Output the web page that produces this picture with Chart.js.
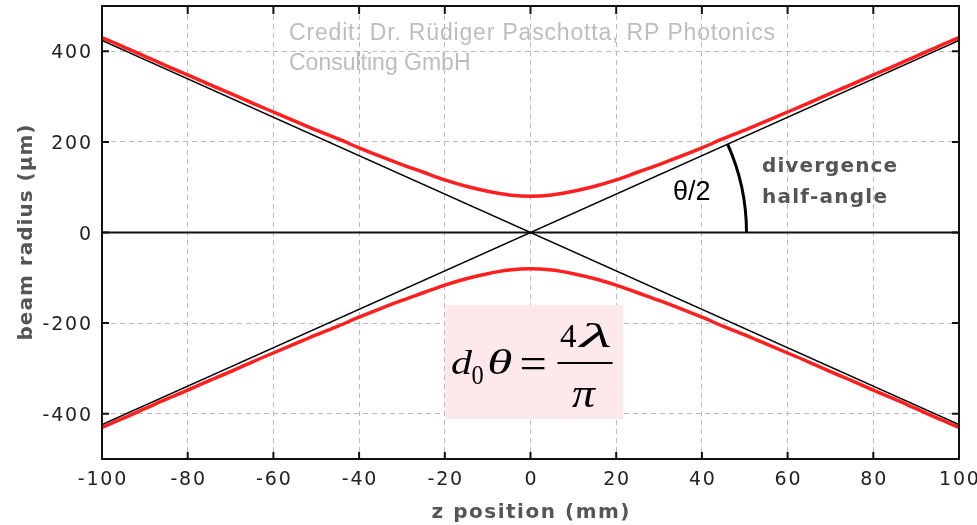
<!DOCTYPE html>
<html><head><meta charset="utf-8">
<script src="https://cdn.jsdelivr.net/npm/chart.js@4.4.1/dist/chart.umd.min.js"></script>
<style>html,body{margin:0;padding:0;background:#fff;overflow:hidden}canvas{display:block}</style>
</head><body>
<canvas id="c" width="977" height="525" style="width:977px;height:525px"></canvas>
<script>
// ---- data ----
const zPos = [-100,-95,-90,-85,-80,-75,-70,-65,-60,-55,-50,-45,-40,-35,-30,-25,-20,-15,-10,-5,0,5,10,15,20,25,30,35,40,45,50,55,60,65,70,75,80,85,90,95,100];
const radiusUpper = [430,410,389,368,348,327,307,286,266,246,226,207,187,168,150,133,116,102,91,83,80,83,91,102,116,133,150,168,187,207,226,246,266,286,307,327,348,368,389,410,430];
const radiusLower = [-430,-410,-389,-368,-348,-327,-307,-286,-266,-246,-226,-207,-187,-168,-150,-133,-116,-102,-91,-83,-80,-83,-91,-102,-116,-133,-150,-168,-187,-207,-226,-246,-266,-286,-307,-327,-348,-368,-389,-410,-430];
const asymZ = [-100, 100];
const asymFalling = [424, -424];
const asymRising = [-424, 424];
const xTicks = [-100,-80,-60,-40,-20,0,20,40,60,80,100];
const yTicks = [-400,-200,0,200,400];
const xTickLabels = ['-100','-80','-60','-40','-20','0','20','40','60','80','100'];
const yTickLabels = ['-400','-200','0','200','400'];
const xTitle = 'z position (mm)';
const yTitle = 'beam radius (µm)';
const creditLines = ['Credit: Dr. Rüdiger Paschotta, RP Photonics', 'Consulting GmbH'];
const angleLabel = 'θ/2';
const noteLines = ['divergence', 'half-angle'];

function pts(xs, ys){ return xs.map((x,i)=>({x:x, y:ys[i]})); }

function drawSpaced(ctx, text, x, y, font, spacing, align, color){
  ctx.save();
  ctx.font = font; ctx.letterSpacing = '0px';
  ctx.textBaseline = 'alphabetic';
  const n = [...text].length;
  const w = ctx.measureText(text).width + spacing*(n-1);
  let left = align==='center' ? x - w/2 : (align==='right' ? x - w : x);
  ctx.letterSpacing = spacing + 'px';
  ctx.textAlign = 'left';
  ctx.fillStyle = color;
  ctx.fillText(text, left, y);
  ctx.restore();
}
function drawFitted(ctx, text, x, y, font, targetW, align, color){
  ctx.save(); ctx.font = font; ctx.letterSpacing='0px';
  const n = [...text].length;
  const nat = ctx.measureText(text).width;
  ctx.restore();
  const sp = n>1 ? (targetW - nat)/(n-1) : 0;
  drawSpaced(ctx, text, x, y, font, sp, align, color);
}
// draw a glyph so that its ink fills the box [l,t,r,b]
function drawInBox(ctx, text, font, l, t, r, b){
  ctx.save();
  ctx.font = font; ctx.letterSpacing = '0px';
  ctx.textAlign = 'left'; ctx.textBaseline = 'alphabetic';
  const m = ctx.measureText(text);
  const iw = m.actualBoundingBoxLeft + m.actualBoundingBoxRight;
  const ih = m.actualBoundingBoxAscent + m.actualBoundingBoxDescent;
  const sx = (r - l) / iw, sy = (b - t) / ih;
  ctx.translate(l, t);
  ctx.scale(sx, sy);
  ctx.fillStyle = '#000';
  ctx.fillText(text, m.actualBoundingBoxLeft, m.actualBoundingBoxAscent);
  ctx.restore();
}

const deco = {
  id: 'deco',
  beforeDraw(chart){
    const ctx = chart.ctx;
    ctx.save();
    ctx.fillStyle = '#fff';
    ctx.fillRect(0,0,chart.width,chart.height);
    ctx.restore();
    drawFitted(ctx, creditLines[0], 289, 40, '23px "Liberation Sans", Arial, sans-serif', 486, 'left', '#bdbdbd');
    drawSpaced(ctx, creditLines[1], 289, 70, '23px "Liberation Sans", Arial, sans-serif', 0, 'left', '#bdbdbd');
  },
  beforeDatasetsDraw(chart){
    const ctx = chart.ctx, a = chart.chartArea;
    const yS = chart.scales.y;
    ctx.save();
    ctx.fillStyle = '#fde8ec';
    ctx.fillRect(445, 305, 178, 114);
    ctx.restore();
    const y0 = yS.getPixelForValue(0);
    ctx.save();
    ctx.strokeStyle = '#111'; ctx.lineWidth = 2;
    ctx.beginPath(); ctx.moveTo(a.left, y0); ctx.lineTo(a.right, y0); ctx.stroke();
    ctx.restore();
  },
  afterDatasetsDraw(chart){
    const ctx = chart.ctx, a = chart.chartArea;
    const xS = chart.scales.x, yS = chart.scales.y;
    ctx.save();
    ctx.strokeStyle = '#111'; ctx.lineWidth = 2;
    ctx.strokeRect(a.left, a.top, a.right - a.left, a.bottom - a.top);
    ctx.beginPath();
    xTicks.forEach(v=>{
      const px = xS.getPixelForValue(v);
      ctx.moveTo(px, a.bottom); ctx.lineTo(px, a.bottom - 7);
      ctx.moveTo(px, a.top); ctx.lineTo(px, a.top + 8);
    });
    yTicks.forEach(v=>{
      const py = yS.getPixelForValue(v);
      ctx.moveTo(a.left, py); ctx.lineTo(a.left + 7, py);
      ctx.moveTo(a.right, py); ctx.lineTo(a.right - 7, py);
    });
    ctx.stroke();
    ctx.restore();
    const tf = '19px "DejaVu Sans", sans-serif';
    xTicks.forEach((v,i)=>{
      drawSpaced(ctx, xTickLabels[i], xS.getPixelForValue(v), 485, tf, 1.8, 'center', '#222');
    });
    yTicks.forEach((v,i)=>{
      drawSpaced(ctx, yTickLabels[i], 91, yS.getPixelForValue(v) + 7, tf, 1.8, 'right', '#222');
    });
    const titleFont = 'bold 20px "DejaVu Sans", sans-serif';
    drawFitted(ctx, xTitle, xS.getPixelForValue(0), 518, titleFont, 198, 'center', '#555');
    ctx.save();
    ctx.translate(32, yS.getPixelForValue(0));
    ctx.rotate(-Math.PI/2);
    drawFitted(ctx, yTitle, 0, 0, titleFont, 216, 'center', '#555');
    ctx.restore();
    const cx = xS.getPixelForValue(0), cy = yS.getPixelForValue(0);
    const ex = xS.getPixelForValue(asymZ[1]), ey = yS.getPixelForValue(asymRising[1]);
    const ang = Math.atan2(cy - ey, ex - cx);
    ctx.save();
    ctx.strokeStyle = '#000'; ctx.lineWidth = 3;
    ctx.beginPath(); ctx.arc(cx, cy, 216, -ang, 0); ctx.stroke();
    ctx.restore();
    drawSpaced(ctx, angleLabel, 673, 200, '27px "Liberation Sans", Arial, sans-serif', 0, 'left', '#000');
    drawFitted(ctx, noteLines[0], 762, 172, 'bold 20px "DejaVu Sans", sans-serif', 135, 'left', '#555');
    drawFitted(ctx, noteLines[1], 762, 203, 'bold 20px "DejaVu Sans", sans-serif', 125, 'left', '#555');
    // formula d0 theta = 4 lambda / pi
    const it = 'italic 40px "Liberation Serif", "Times New Roman", serif';
    const rm = '40px "Liberation Serif", "Times New Roman", serif';
    drawInBox(ctx, 'd', it, 452, 349.5, 473, 374);
    drawInBox(ctx, '0', rm, 472, 367, 483, 384.3);
    drawInBox(ctx, 'θ', it, 488.5, 348.5, 511.5, 374);
    drawInBox(ctx, '=', rm, 522, 357, 545, 369);
    drawInBox(ctx, '4', rm, 560, 324.5, 576.5, 347);
    drawInBox(ctx, 'λ', it, 578, 323.5, 611.5, 347);
    ctx.save(); ctx.fillStyle = '#000'; ctx.fillRect(557.5, 362, 55, 2); ctx.restore();
    drawInBox(ctx, 'π', it, 572, 387, 596, 406.5);
  }
};

const red = '#ff1f1f';
new Chart(document.getElementById('c'), {
  type: 'line',
  data: {
    datasets: [
      {data: pts(asymZ, asymFalling), borderColor: '#000', borderWidth: 1.5, pointRadius: 0, order: 0},
      {data: pts(asymZ, asymRising), borderColor: '#000', borderWidth: 1.5, pointRadius: 0, order: 0},
      {data: pts(zPos, radiusUpper), borderColor: red, borderWidth: 3.5, pointRadius: 0, cubicInterpolationMode: 'monotone', order: 1},
      {data: pts(zPos, radiusLower), borderColor: red, borderWidth: 3.5, pointRadius: 0, cubicInterpolationMode: 'monotone', order: 1}
    ]
  },
  options: {
    responsive: false,
    animation: false,
    devicePixelRatio: 1,
    layout: {padding: {left: 102, right: 18, top: 6, bottom: 66}},
    plugins: {legend: {display: false}, tooltip: {enabled: false}},
    scales: {
      x: {
        type: 'linear', min: -100, max: 100,
        afterBuildTicks: s => { s.ticks = xTicks.map(v=>({value:v})); },
        ticks: {display: false},
        grid: {color: '#bbbbbb', lineWidth: 1, drawTicks: false},
        border: {display: false, dash: [5,4]}
      },
      y: {
        type: 'linear', min: -500, max: 500,
        afterBuildTicks: s => { s.ticks = yTicks.map(v=>({value:v})); },
        ticks: {display: false},
        grid: {color: '#bbbbbb', lineWidth: 1, drawTicks: false},
        border: {display: false, dash: [5,4]}
      }
    }
  },
  plugins: [deco]
});
</script>
</body></html>
